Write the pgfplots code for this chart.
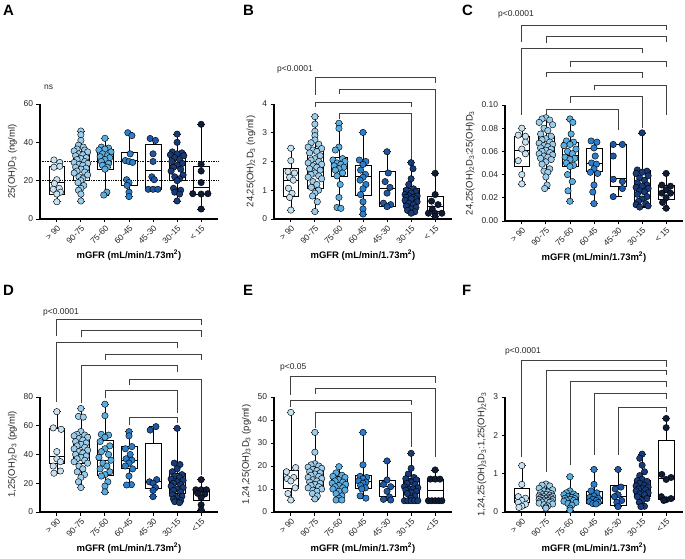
\documentclass[border=0pt]{standalone}
\usepackage{fontspec}
\setmainfont{Liberation Sans}
\usepackage{pgfplots}
\pgfplotsset{compat=1.18}
\usepgfplotslibrary{statistics}
\definecolor{c0}{HTML}{C6E2F3}
\definecolor{c1}{HTML}{9DCDEC}
\definecolor{c2}{HTML}{5AAEE2}
\definecolor{c3}{HTML}{2C7FCC}
\definecolor{c4}{HTML}{1C58A6}
\definecolor{c5}{HTML}{173B78}
\definecolor{c6}{HTML}{0F1C38}
\pgfplotsset{
 panel/.style={scale only axis, width=178bp, height=115bp, anchor=south west,
  xmin=-0.7, xmax=6.7, ymin=0, xtick={0,...,6},
  axis x line*=bottom, axis y line*=left, tick align=outside, tick pos=left,
  major tick length=3.5bp, axis line style={line width=1.1pt, black},
  tick style={line width=0.9pt, black}, clip=false,
  tick label style={font=\fontsize{8.5}{10}\selectfont, text=black!85},
  x tick label style={rotate=45, anchor=north east, inner sep=1.5pt},
  ylabel style={font=\fontsize{9.5}{11}\selectfont, text=black!85},
  xlabel style={font=\fontsize{9.5}{11}\selectfont\bfseries},
  xlabel={mGFR (mL/min/1.73m\textsuperscript{2})},
  /pgf/number format/assume math mode=true, scaled y ticks=false},
 labA/.style={xticklabels={> 90,90-75,75-60,60-45,45-30,30-15,< 15}},
 labD/.style={xticklabels={> 90,90-75,75-60,60-45,45-30,30-15,<15}},
 bxs/.style={solid, draw=black, line width=0.65pt, mark=none, boxplot/draw direction=y, boxplot/box extend=0.66, boxplot/whisker extend=0.36},
 pt/.style={only marks, mark=*, mark size=3.2bp, mark options={draw=black, line width=0.45pt, fill=#1, solid}},
 brs/.style={black!75, line width=0.75pt, no markers},
}
\newcommand{\bx}[6]{\addplot[bxs, boxplot prepared={draw position=#1, lower whisker=#2, lower quartile=#3, median=#4, upper quartile=#5, upper whisker=#6}] coordinates {};}
\newcommand{\brk}[5]{\addplot[brs] coordinates {(#1,#4) (#1,#3) (#2,#3) (#2,#5)};}
\newcommand{\ptxt}{\fontsize{8.5}{10}\selectfont\color{black!85}}
\newcommand{\plet}{\fontsize{15}{17}\selectfont\bfseries}
\begin{document}
\begin{tikzpicture}
\useasboundingbox (0,0) rectangle (685bp,559bp);
% ---------------- A
\begin{axis}[panel, labA, at={(40bp,340bp)}, ymax=60, ytick={0,20,40,60},
  ylabel={25(OH)D\textsubscript{3} (ng/ml)}]
\addplot[densely dotted, black, line width=0.7pt, no markers] coordinates {(-0.7,30) (6.7,30)};
\addplot[densely dotted, black, line width=0.7pt, no markers] coordinates {(-0.7,20) (6.7,20)};
\bx{0}{9}{13}{19}{27.3}{30.8}
\bx{1}{9.4}{20.3}{26.5}{35.1}{45.9}
\bx{2}{12.5}{26.1}{32.5}{36.5}{42.1}
\bx{3}{11.7}{17.7}{30.4}{34.8}{45}
\bx{4}{15.1}{15.5}{25.6}{39}{42}
\bx{5}{9.4}{20.3}{28.2}{34.8}{44.3}
\bx{6}{5.2}{13}{16.3}{27.7}{49.4}
\addplot[pt=c0] coordinates {(-0.12,30.8)(0.12,29.5)(0.12,27.5)(-0.12,27)(0,20.5)(-0.1,18.5)(0.1,16)(-0.15,15.5)(0.15,14)(0,13)(0,9)};
\addplot[pt=c1] coordinates {(1,45.9)(1,44)(1,41)(0.9,38.5)(1.1,37.5)(0.84,36.5)(1.16,36)(0.72,35.5)(1.28,35)(0.92,34)(1.08,33.5)(0.78,33)(1.22,32)(1,31.5)(0.84,31)(1.16,30)(0.72,29.5)(1.28,29)(0.92,28.5)(1.08,28)(0.78,27)(1.22,26.5)(1,26)(0.84,25)(1.16,24.5)(0.72,24)(1.28,23)(0.92,22)(1.08,21)(1,20)(0.88,19)(1.12,17.5)(1,16)(0.9,15)(1,13)(1,9.4)};
\addplot[pt=c2] coordinates {(2,42.1)(1.85,37.5)(2.15,37)(2,36.5)(1.75,36)(2.25,35)(1.9,34)(2.1,33)(1.8,32.5)(2.2,32)(2,31)(1.85,30)(2.15,29)(1.9,28)(2.1,27)(2,26)(2.08,14)(1.95,12.5)};
\addplot[pt=c3] coordinates {(2.95,45)(3.12,43.5)(3.05,34)(2.85,30.5)(3,30)(3.15,29.5)(2.9,20.5)(3,19)(2.92,17.5)(3,14)(3,11.7)};
\addplot[pt=c4] coordinates {(3.88,42)(4.1,41)(4,34)(4,30)(3.95,22)(4.05,20.5)(3.8,15.5)(4,15.5)(4.2,15.5)};
\addplot[pt=c5] coordinates {(5,44.3)(5,40)(4.8,35)(5.2,34.5)(5,34)(4.72,33.5)(5.28,33)(4.9,32)(5.1,31)(4.78,30)(5.22,29)(5,28)(4.85,27)(5.15,26)(4.75,25)(5.25,23)(4.9,22)(5.1,21)(5,20)(4.85,16)(5.15,15)(4.9,14)(5.1,13)(5,9.4)};
\addplot[pt=c6] coordinates {(6,49.4)(6,28.5)(6,25)(6,19)(5.65,13.2)(6,13)(6.28,13.2)(6,5.2)};
\end{axis}
% ---------------- B
\begin{axis}[panel, labA, at={(274bp,340bp)}, ymax=4, ytick={0,1,2,3,4},
  ylabel={24,25(OH)\textsubscript{2}D\textsubscript{3} (ng/ml)}]
\bx{0}{0.31}{0.78}{1.36}{1.76}{2.46}
\bx{1}{0.26}{1.05}{1.8}{2.46}{3.56}
\bx{2}{0.37}{1.47}{1.82}{2.14}{3.33}
\bx{3}{0.17}{0.83}{1.47}{1.88}{3.01}
\bx{4}{0.43}{0.45}{1.07}{1.65}{2.34}
\bx{5}{0.2}{0.54}{0.8}{1.07}{1.96}
\bx{6}{0.08}{0.26}{0.45}{0.78}{1.59}
\addplot[pt=c0] coordinates {(0,2.46)(0,2.03)(-0.12,1.65)(0.15,1.6)(-0.05,1.45)(0.1,1.35)(-0.1,1.07)(0.05,0.89)(-0.05,0.75)(0,0.31)};
\addplot[pt=c1] coordinates {(1,3.56)(1,3.3)(1,3.05)(1,2.9)(1,2.75)(0.84,2.65)(1.16,2.6)(0.72,2.5)(1.28,2.45)(0.92,2.4)(1.08,2.35)(0.78,2.3)(1.22,2.2)(1,2.1)(0.84,2.05)(1.16,2)(0.72,1.95)(1.28,1.9)(0.92,1.85)(1.08,1.8)(0.78,1.75)(1.22,1.7)(1,1.6)(0.84,1.55)(1.16,1.5)(0.72,1.45)(1.28,1.4)(0.92,1.3)(1.08,1.2)(0.85,1.1)(1.15,1)(1,0.9)(0.9,0.8)(1.1,0.6)(1,0.26)};
\addplot[pt=c2] coordinates {(2,3.33)(2,3.15)(2,2.5)(1.85,2.4)(2.15,2.1)(1.75,2.05)(2.25,2)(1.92,1.95)(2.08,1.9)(1.8,1.85)(2.2,1.8)(2,1.75)(1.85,1.7)(2.15,1.6)(1.92,1.5)(2.05,1.2)(2,0.75)(1.92,0.4)(2.08,0.37)};
\addplot[pt=c3] coordinates {(3,3.01)(2.85,2.05)(3.12,2)(3,1.9)(2.9,1.7)(3.1,1.55)(3,1.45)(2.88,1.35)(3.12,1.2)(3,1.05)(2.9,0.85)(3,0.6)(3,0.35)(3,0.17)};
\addplot[pt=c4] coordinates {(4,2.34)(4.05,1.6)(3.92,1.3)(4.12,1.1)(4,0.9)(3.85,0.55)(4.15,0.5)(4,0.43)};
\addplot[pt=c5] coordinates {(5,1.96)(5.08,1.75)(5,1.4)(4.9,1.2)(5.1,1.05)(4.8,1)(5.2,0.95)(5,0.9)(4.75,0.85)(5.25,0.8)(4.9,0.8)(5.1,0.75)(4.8,0.75)(5.2,0.7)(5,0.7)(4.75,0.65)(5.25,0.6)(4.9,0.55)(5.1,0.5)(4.8,0.45)(5.2,0.4)(5,0.35)(4.85,0.3)(5.15,0.25)(5,0.2)};
\addplot[pt=c6] coordinates {(6,1.59)(6,0.85)(5.85,0.62)(6.12,0.5)(5.88,0.35)(5.72,0.2)(6,0.2)(6.28,0.2)(6,0.08)};
\brk{1}{6}{4.94}{4.31}{4.72}
\brk{2}{6}{4.515}{4.345}{1.70}
\brk{1}{5}{4.07}{3.906}{3.906}
\brk{2}{5}{3.666}{3.468}{2.052}
\end{axis}
% ---------------- C
\begin{axis}[panel, labA, at={(505bp,338bp)}, height=116bp, ymax=0.1, ytick={0,0.02,0.04,0.06,0.08,0.1},
  yticklabel style={/pgf/number format/.cd, fixed, fixed zerofill, precision=2},
  ylabel={24,25(OH)\textsubscript{2}D\textsubscript{3}:25(OH)D\textsubscript{3}}]
\bx{0}{0.032}{0.047}{0.061}{0.073}{0.080}
\bx{1}{0.028}{0.055}{0.060}{0.073}{0.089}
\bx{2}{0.017}{0.047}{0.057}{0.068}{0.088}
\bx{3}{0.015}{0.043}{0.050}{0.063}{0.069}
\bx{4}{0.021}{0.030}{0.037}{0.066}{0.066}
\bx{5}{0.012}{0.013}{0.028}{0.044}{0.076}
\bx{6}{0.011}{0.019}{0.025}{0.031}{0.041}
\addplot[pt=c0] coordinates {(0,0.080)(-0.15,0.074)(0.15,0.073)(0.15,0.068)(0,0.062)(0.15,0.058)(-0.15,0.052)(0,0.040)(0,0.032)};
\addplot[pt=c1] coordinates {(1,0.089)(0.84,0.088)(1.16,0.087)(0.72,0.085)(1.28,0.083)(0.92,0.080)(1.08,0.078)(0.78,0.075)(1.22,0.073)(1,0.071)(0.84,0.070)(1.16,0.068)(0.72,0.067)(1.28,0.066)(0.92,0.065)(1.08,0.064)(0.78,0.063)(1.22,0.062)(1,0.061)(0.84,0.060)(1.16,0.059)(0.72,0.058)(1.28,0.057)(0.92,0.056)(1.08,0.055)(0.78,0.054)(1.22,0.053)(1,0.051)(0.84,0.049)(1.16,0.045)(0.92,0.043)(1.08,0.042)(1,0.038)(1.05,0.031)(0.95,0.028)};
\addplot[pt=c2] coordinates {(2,0.088)(2.12,0.085)(2.05,0.075)(1.85,0.069)(2.15,0.068)(2,0.066)(1.75,0.065)(2.25,0.062)(1.9,0.060)(2.1,0.058)(1.8,0.055)(2.2,0.054)(2,0.053)(1.85,0.050)(2.15,0.048)(2,0.047)(1.9,0.040)(2.1,0.034)(1.92,0.026)(2,0.017)};
\addplot[pt=c3] coordinates {(2.88,0.069)(3.12,0.068)(3,0.063)(3.05,0.056)(2.9,0.050)(3.1,0.049)(3,0.045)(2.85,0.042)(3.15,0.041)(3,0.031)(2.95,0.025)(3,0.015)};
\addplot[pt=c4] coordinates {(3.8,0.066)(4.18,0.066)(3.8,0.056)(3.8,0.036)(4.18,0.034)(4.18,0.028)(3.8,0.021)};
\addplot[pt=c5] coordinates {(5,0.076)(4.8,0.044)(5.2,0.043)(5,0.042)(4.75,0.041)(5.25,0.039)(4.9,0.037)(5.1,0.035)(4.8,0.033)(5.2,0.031)(5,0.030)(4.75,0.029)(5.25,0.028)(4.9,0.026)(5.1,0.025)(4.8,0.023)(5.2,0.021)(5,0.019)(4.85,0.017)(5.15,0.015)(4.75,0.014)(5.25,0.013)(4.9,0.012)};
\addplot[pt=c6] coordinates {(6,0.041)(5.82,0.031)(6.18,0.030)(6,0.027)(5.82,0.024)(6.18,0.024)(6,0.020)(5.85,0.016)(6,0.011)};
\brk{0}{6}{0.1690}{0.1546}{0.1647}
\brk{1}{6}{0.1589}{0.1532}{0.1546}
\brk{0}{5}{0.1489}{0.0914}{0.1445}
\brk{2}{6}{0.1379}{0.1330}{0.1330}
\brk{1}{5}{0.1282}{0.1244}{0.1230}
\brk{3}{6}{0.1172}{0.1129}{0.0914}
\brk{2}{5}{0.1072}{0.1014}{0.0799}
\brk{1}{4}{0.0963}{0.0914}{0.0784}
\end{axis}
% ---------------- D
\begin{axis}[panel, labD, at={(40bp,47bp)}, ymax=80, ytick={0,20,40,60,80},
  ylabel={1,25(OH)\textsubscript{2}D\textsubscript{3} (pg/ml)}]
\bx{0}{27}{33.9}{39}{58.2}{69.8}
\bx{1}{17}{34}{43}{54}{72}
\bx{2}{14}{25.7}{36.2}{49.9}{75}
\bx{3}{18.8}{30.4}{36.2}{45.4}{55.9}
\bx{4}{10.7}{16.5}{21}{47.8}{59.4}
\bx{5}{6.5}{13}{20.4}{26.9}{58.2}
\bx{6}{1.5}{8.3}{14.1}{15.3}{22.5}
\addplot[pt=c0] coordinates {(0,69.8)(-0.15,58.5)(0.18,57.5)(0,42)(0,37)(0.15,35)(-0.15,32)(0.15,28.5)(-0.12,27)};
\addplot[pt=c1] coordinates {(1,72)(0.9,66.5)(1.1,66)(1,56)(0.84,54)(1.16,53.5)(0.72,53)(1.28,52)(0.92,51)(1.08,50)(0.78,49)(1.22,48)(1,47)(0.84,46)(1.16,45)(0.72,44)(1.28,43)(0.92,42)(1.08,41)(0.78,40)(1.22,39)(1,38)(0.84,37)(1.16,36)(0.72,35)(1.28,34)(0.92,32)(1.08,30)(0.85,28)(1.15,26)(1,24)(0.9,21)(1,17)};
\addplot[pt=c2] coordinates {(2,75)(2,67)(1.85,54)(2.15,53.5)(2,52)(1.8,49)(2.2,46)(2,44)(1.85,42)(2.15,40)(1.75,38)(2.25,36)(1.92,34)(2.08,32)(1.8,30)(2.2,28)(2,26)(1.85,25)(2.12,21)(2,18)(2,14)};
\addplot[pt=c3] coordinates {(3,55.9)(3,53)(3.12,45.5)(2.85,44)(3.05,40)(2.88,37)(3.12,36)(3,34)(2.85,32)(3.15,30)(3,25)(3.1,19)(2.9,18.8)};
\addplot[pt=c4] coordinates {(4.12,59.4)(3.88,57)(4.15,22.5)(3.85,21)(4,20)(4.1,17)(4,15)(4,10.7)};
\addplot[pt=c5] coordinates {(5,58.2)(4.88,34)(5.12,33)(5,30)(4.8,28)(5.2,26)(4.9,25)(5.1,24)(4.75,23)(5.25,22)(5,21)(4.85,20)(5.15,19)(4.75,18)(5.25,17)(5,16)(4.85,15)(5.15,14)(4.8,12)(5.2,11)(5,10)(4.85,9)(5.15,8)(4.9,7.2)(5.1,6.5)};
\addplot[pt=c6] coordinates {(6,22.5)(5.78,15.5)(6,15.5)(6.22,15.5)(5.85,13)(6.15,12.5)(6,10)(6,5)(6,1.5)};
\brk{0}{6}{134.1}{122.4}{130.1}
\brk{1}{6}{126.1}{121.5}{122.0}
\brk{0}{5}{118.1}{76.7}{113.9}
\brk{2}{6}{109.7}{105.7}{105.7}
\brk{1}{5}{101.8}{75.6}{97.6}
\brk{3}{6}{92.5}{88.3}{25.7}
\brk{2}{5}{84.9}{79.1}{68.7}
\brk{3}{5}{65.9}{60.5}{61.7}
\end{axis}
% ---------------- E
\begin{axis}[panel, labD, at={(274bp,47bp)}, ymax=50, ytick={0,10,20,30,40,50},
  ylabel={1,24,25(OH)\textsubscript{3}D\textsubscript{3} (pg/ml)}]
\bx{0}{5.2}{10.3}{14.6}{18.3}{43.3}
\bx{1}{5.7}{11}{13.9}{18.3}{34.6}
\bx{2}{5.2}{9.6}{12.5}{15.4}{19.7}
\bx{3}{6}{10.3}{13.5}{16.1}{34.6}
\bx{4}{5.2}{7}{11}{13.9}{22.2}
\bx{5}{4.9}{4.9}{9.6}{14.6}{25.5}
\bx{6}{4.9}{4.9}{9.6}{14.3}{18.3}
\addplot[pt=c0] coordinates {(0,43.3)(0.2,19.3)(-0.18,17.5)(0.12,15)(-0.15,14.5)(0,13.5)(0.18,10.5)(-0.12,8)(0,5.2)};
\addplot[pt=c1] coordinates {(1,34.6)(1,26)(1,21)(0.84,20.5)(1.16,20)(0.72,19.5)(1.28,19)(0.92,18.5)(1.08,18)(0.78,17.5)(1.22,17)(1,16.5)(0.84,16)(1.16,15.5)(0.72,15)(1.28,14.5)(0.92,14)(1.08,13.5)(0.78,13)(1.22,12.5)(1,12)(0.84,11.5)(1.16,11)(0.72,10.5)(1.28,10)(0.92,9.5)(1.08,9)(0.9,8)(1.1,7)(1,5.7)};
\addplot[pt=c2] coordinates {(2,19.7)(1.88,17)(2.12,16)(1.75,15.5)(2.25,15)(2,14)(1.84,13.5)(2.16,13)(1.72,12.5)(2.28,12)(2,11.5)(1.84,11)(2.16,10.5)(1.75,10)(2.25,9.5)(2,9)(1.88,8)(2.12,7)(2,6)(1.88,5.2)(2.12,5.2)};
\addplot[pt=c3] coordinates {(3,34.6)(3,20.5)(2.88,15.5)(3.15,15)(3,14.5)(2.82,13.5)(3.12,13)(3,12.5)(2.9,11.5)(3.1,10.5)(2.95,10)(2.88,7)(3.12,6)};
\addplot[pt=c4] coordinates {(4,22.2)(4,13.9)(3.85,12)(4.15,11)(4,9)(4.1,6.5)(3.85,5.5)(4.15,5.2)};
\addplot[pt=c5] coordinates {(5,25.5)(5,19)(4.88,16.5)(5.12,15)(4.78,14.5)(5.22,14)(5,13)(4.84,12.5)(5.16,12)(4.72,11)(5.28,10.5)(4.92,10)(5.08,10)(4.78,9.5)(5.22,9)(5,8.5)(4.84,8)(5.16,7)(5,6)(4.72,4.9)(4.86,4.9)(5,4.9)(5.14,4.9)(5.28,4.9)};
\addplot[pt=c6] coordinates {(6,18.3)(5.8,14.3)(6,14.3)(6.2,14.3)(5.72,4.9)(5.86,4.9)(6,4.9)(6.14,4.9)(6.28,4.9)};
\brk{0}{6}{58.8}{50.9}{56.0}
\brk{1}{6}{53.8}{51.2}{24.0}
\brk{0}{5}{48.7}{45.8}{46.5}
\brk{1}{5}{43.3}{36.4}{28.4}
\end{axis}
% ---------------- F
\begin{axis}[panel, labD, at={(505bp,47bp)}, ymax=3, ytick={0,1,2,3},
  ylabel={1,24,25(OH)\textsubscript{3}D\textsubscript{3}:1,25(OH)\textsubscript{2}D\textsubscript{3}}]
\bx{0}{0.12}{0.24}{0.36}{0.62}{1.21}
\bx{1}{0.1}{0.24}{0.37}{0.49}{0.73}
\bx{2}{0.05}{0.27}{0.36}{0.49}{0.92}
\bx{3}{0.21}{0.23}{0.37}{0.53}{1.11}
\bx{4}{0.14}{0.17}{0.4}{0.69}{1.11}
\bx{5}{0.14}{0.4}{0.62}{0.82}{1.51}
\bx{6}{0.3}{0.33}{0.88}{1.88}{2.44}
\addplot[pt=c0] coordinates {(0,1.21)(0,0.72)(-0.15,0.4)(0.15,0.36)(0,0.3)(-0.15,0.25)(0.15,0.2)(0,0.15)(-0.12,0.12)};
\addplot[pt=c1] coordinates {(1,0.73)(0.84,0.7)(1.16,0.68)(0.72,0.62)(1.28,0.58)(0.92,0.55)(1.08,0.52)(0.78,0.5)(1.22,0.48)(1,0.46)(0.84,0.45)(1.16,0.44)(0.72,0.42)(1.28,0.41)(0.92,0.4)(1.08,0.39)(0.78,0.38)(1.22,0.37)(1,0.36)(0.84,0.35)(1.16,0.34)(0.72,0.33)(1.28,0.32)(0.92,0.31)(1.08,0.3)(0.78,0.29)(1.22,0.28)(1,0.27)(0.84,0.26)(1.16,0.25)(0.72,0.23)(1.28,0.21)(0.92,0.19)(1.08,0.16)(1,0.13)(1,0.1)};
\addplot[pt=c2] coordinates {(2,0.92)(2,0.55)(1.85,0.5)(2.15,0.47)(1.75,0.45)(2.25,0.42)(1.92,0.4)(2.08,0.38)(1.8,0.36)(2.2,0.35)(2,0.33)(1.85,0.31)(2.15,0.3)(1.75,0.28)(2.25,0.25)(1.92,0.22)(2.08,0.18)(2,0.1)(2,0.05)};
\addplot[pt=c3] coordinates {(3,1.11)(3,0.72)(2.88,0.55)(3.12,0.5)(3,0.42)(2.82,0.38)(3.18,0.36)(2.95,0.33)(3.1,0.3)(2.82,0.27)(3.18,0.25)(2.95,0.22)(3.08,0.21)};
\addplot[pt=c4] coordinates {(4,1.11)(4.12,0.65)(3.88,0.6)(4,0.45)(3.85,0.4)(4.15,0.3)(3.95,0.25)(4,0.14)};
\addplot[pt=c5] coordinates {(5,1.51)(4.9,1.4)(5,1.22)(5.1,1.05)(4.9,0.95)(5,0.85)(4.8,0.82)(5.2,0.8)(4.9,0.75)(5.1,0.7)(4.75,0.68)(5.25,0.65)(5,0.62)(4.85,0.6)(5.15,0.58)(4.75,0.55)(5.25,0.5)(4.9,0.47)(5.1,0.45)(4.8,0.4)(5.2,0.35)(5,0.3)(4.88,0.25)(5.1,0.15)(4.95,0.14)};
\addplot[pt=c6] coordinates {(6,2.44)(6,2.2)(5.82,0.98)(6.2,0.9)(6,0.85)(5.8,0.4)(6.2,0.35)(6,0.32)(5.9,0.3)};
\brk{0}{6}{3.966}{1.443}{3.791}
\brk{1}{6}{3.705}{1.051}{3.574}
\brk{2}{6}{3.400}{1.226}{3.269}
\brk{3}{6}{3.086}{1.487}{2.940}
\brk{4}{6}{2.721}{1.487}{2.617}
\end{axis}
% ---------------- texts
\node[anchor=west, inner sep=0, font=\plet] at (3bp,549bp) {A};
\node[anchor=west, inner sep=0, font=\plet] at (243bp,549bp) {B};
\node[anchor=west, inner sep=0, font=\plet] at (462bp,549bp) {C};
\node[anchor=west, inner sep=0, font=\plet] at (3bp,269bp) {D};
\node[anchor=west, inner sep=0, font=\plet] at (243bp,269bp) {E};
\node[anchor=west, inner sep=0, font=\plet] at (462bp,269bp) {F};
\node[anchor=west, inner sep=0, font=\ptxt] at (44bp,472bp) {ns};
\node[anchor=west, inner sep=0, font=\ptxt] at (277bp,490bp) {p<0.0001};
\node[anchor=west, inner sep=0, font=\ptxt] at (498bp,545bp) {p<0.0001};
\node[anchor=west, inner sep=0, font=\ptxt] at (43bp,247bp) {p<0.0001};
\node[anchor=west, inner sep=0, font=\ptxt] at (280bp,192bp) {p<0.05};
\node[anchor=west, inner sep=0, font=\ptxt] at (505bp,208bp) {p<0.0001};
\end{tikzpicture}
\end{document}
